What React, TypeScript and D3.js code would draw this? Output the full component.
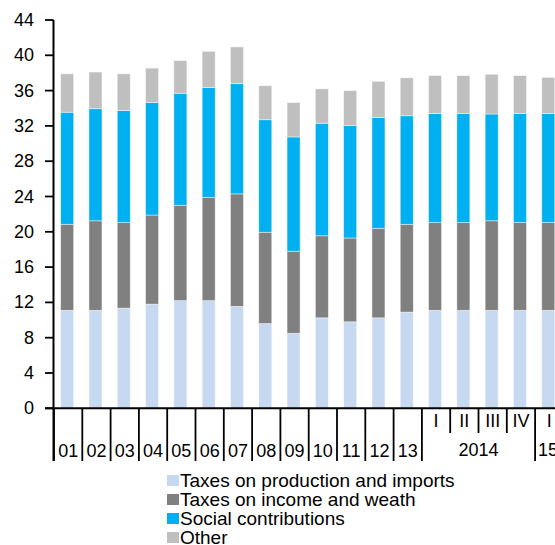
import React from "react";
import * as d3 from "d3";

const categories = ["01","02","03","04","05","06","07","08","09","10","11","12","13","2014-I","2014-II","2014-III","2014-IV","2015-I"];
const yearLabels = ["01","02","03","04","05","06","07","08","09","10","11","12","13"];
const quarterLabels = ["I","II","III","IV","I"];
const seriesNames = ["Taxes on production and imports","Taxes on income and weath","Social contributions","Other"];
const colors = ["#C6D9F1","#808080","#00B0F0","#BFBFBF"];

const production = [11.1,11.1,11.35,11.8,12.2,12.2,11.55,9.6,8.5,10.25,9.8,10.25,10.9,11.1,11.1,11.1,11.1,11.1];
const income = [9.75,10.15,9.7,10.1,10.8,11.7,12.75,10.35,9.3,9.3,9.5,10.15,9.95,9.95,9.95,10.15,9.95,9.95];
const social = [12.7,12.7,12.7,12.75,12.7,12.45,12.5,12.75,12.95,12.75,12.75,12.55,12.3,12.35,12.35,12.1,12.35,12.35];
const other = [4.35,4.15,4.15,3.9,3.7,4.1,4.15,3.85,3.9,3.9,3.95,4.1,4.3,4.3,4.3,4.5,4.3,4.1];
const yTicks = [0,4,8,12,16,20,24,28,32,36,40,44];

const FONT = "'Liberation Sans', Arial, sans-serif";

export default function App() {
  const W = 555, H = 545;
  const x0 = 54, step = 28.3;
  const x = d3.scaleBand<string>().domain(categories).range([x0, x0 + step * categories.length]).padding(0);
  const y = d3.scaleLinear().domain([0, 44]).range([408.3, 20]);
  const bw = x.bandwidth();
  const barW = bw * 0.46;
  const barOff = bw * 0.235;

  const table = categories.map((c, i) => ({ c, production: production[i], income: income[i], social: social[i], other: other[i] }));
  const keys = ["production", "income", "social", "other"];
  const stacked = d3.stack<any>().keys(keys)(table);

  const axisBottomY = 408.3;
  const longTickEnd = 461;
  const shortTickEnd = 433;

  const boundaries = categories.map((c, i) => ({ xv: x(c)!, long: i <= 13 || i === 17 }));

  return (
    <svg width={W} height={H} style={{ position: "absolute", left: 0, top: 0, background: "#fff" }} fontFamily={FONT}>
      {stacked.map((s, si) => (
        <g key={si} fill={colors[si]}>
          {s.map((d, i) => (
            <rect key={i} x={x(categories[i])! + barOff} width={barW} y={y(d[1])} height={y(d[0]) - y(d[1])}
              stroke="rgba(255,255,255,0.55)" strokeWidth={0.8} />
          ))}
        </g>
      ))}
      {/* y axis */}
      <line x1={53.5} x2={53.5} y1={y(44)} y2={longTickEnd} stroke="#000" strokeWidth={2} />
      {yTicks.map(t => (
        <g key={t}>
          <line x1={45} x2={53.5} y1={y(t)} y2={y(t)} stroke="#000" strokeWidth={1.8} />
          <text x={34} y={y(t)} textAnchor="end" dominantBaseline="central" fontSize={18} fill="#000">{t}</text>
        </g>
      ))}
      {/* x axis */}
      <line x1={45} x2={W} y1={axisBottomY} y2={axisBottomY} stroke="#000" strokeWidth={2} />
      {boundaries.map((b, i) => (
        <line key={i} x1={b.xv} x2={b.xv} y1={axisBottomY} y2={b.long ? longTickEnd : shortTickEnd} stroke="#000" strokeWidth={1.8} />
      ))}
      {yearLabels.map((l, i) => (
        <text key={l} x={x(categories[i])! + bw / 2} y={451} textAnchor="middle" dominantBaseline="central" fontSize={18}>{l}</text>
      ))}
      {quarterLabels.map((l, i) => (
        <text key={i} x={x(categories[13 + i])! + bw / 2} y={421} textAnchor="middle" dominantBaseline="central" fontSize={18}>{l}</text>
      ))}
      <text x={(x(categories[13])! + x(categories[16])! + bw) / 2} y={450} textAnchor="middle" dominantBaseline="central" fontSize={18}>2014</text>
      <text x={x(categories[17])! + 3} y={450} textAnchor="start" dominantBaseline="central" fontSize={18}>15</text>
      {/* legend */}
      {seriesNames.map((n, i) => (
        <g key={n} transform={`translate(167, ${480.5 + i * 19})`}>
          <rect x={0} y={-5.5} width={12} height={11} fill={colors[i]} />
          <text x={13} y={0} dominantBaseline="central" fontSize={19}>{n}</text>
        </g>
      ))}
    </svg>
  );
}
